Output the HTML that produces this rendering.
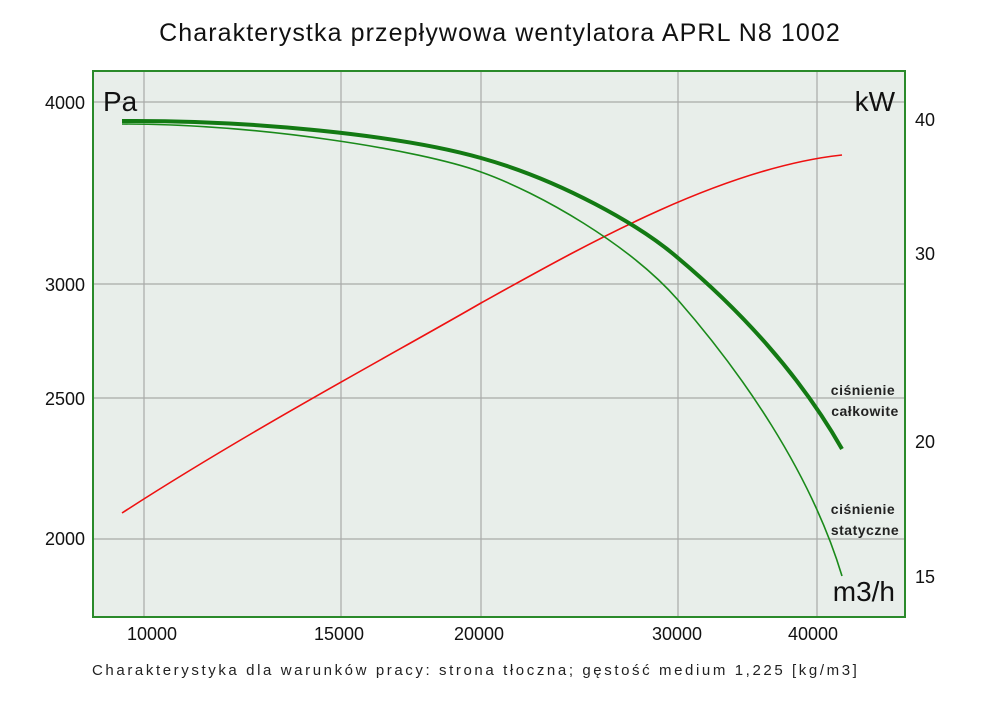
<!DOCTYPE html>
<html><head><meta charset="utf-8"><style>
body{margin:0;background:#fff;}
svg text{font-family:"Liberation Sans","DejaVu Sans",sans-serif;}
</style></head><body>
<svg width="1000" height="706" viewBox="0 0 1000 706" xmlns="http://www.w3.org/2000/svg">
<rect width="1000" height="706" fill="#fff"/>
<text x="500" y="41" font-size="25" text-anchor="middle" fill="#111" letter-spacing="1.1">Charakterystka przepływowa wentylatora APRL N8 1002</text>
<rect x="93" y="71" width="812" height="546" fill="#e8eeea"/>
<g stroke="#a8aaa8" stroke-width="1.2">
<line x1="144" y1="71" x2="144" y2="617"/>
<line x1="341" y1="71" x2="341" y2="617"/>
<line x1="481" y1="71" x2="481" y2="617"/>
<line x1="678" y1="71" x2="678" y2="617"/>
<line x1="817" y1="71" x2="817" y2="617"/>
<line x1="93" y1="102" x2="905" y2="102"/>
<line x1="93" y1="284" x2="905" y2="284"/>
<line x1="93" y1="398" x2="905" y2="398"/>
<line x1="93" y1="539" x2="905" y2="539"/>
</g>
<rect x="93" y="71" width="812" height="546" fill="none" stroke="#2a8a2a" stroke-width="2"/>
<path d="M122,513 C250,430 400,350 481,303 C580,248 720,168 842,155" fill="none" stroke="#ee1111" stroke-width="1.6"/>
<path d="M122,124 C260,124 420,150 481,172 C540,193 630,245 678,300 C740,371 810,470 842,576" fill="none" stroke="#1a8a1a" stroke-width="1.6"/>
<path d="M122,121 C250,120 400,135 481,158 C560,180 640,225 678,258 C740,310 800,375 842,449" fill="none" stroke="#137a13" stroke-width="4"/>
<text x="103" y="111" font-size="28" fill="#111">Pa</text>
<text x="895" y="111" font-size="28" fill="#111" text-anchor="end">kW</text>
<text x="895" y="601" font-size="28" fill="#111" text-anchor="end">m3/h</text>
<g font-size="14" font-weight="bold" fill="#222" text-anchor="middle" letter-spacing="0.5">
<text x="863" y="395">ciśnienie</text>
<text x="865" y="416">całkowite</text>
<text x="863" y="514">ciśnienie</text>
<text x="865" y="535">statyczne</text>
</g>
<g font-size="18" fill="#111">
<g text-anchor="end">
<text x="85" y="109">4000</text>
<text x="85" y="291">3000</text>
<text x="85" y="405">2500</text>
<text x="85" y="545">2000</text>
</g>
<text x="915" y="126">40</text>
<text x="915" y="260">30</text>
<text x="915" y="448">20</text>
<text x="915" y="583">15</text>
<g text-anchor="middle">
<text x="152" y="640">10000</text>
<text x="339" y="640">15000</text>
<text x="479" y="640">20000</text>
<text x="677" y="640">30000</text>
<text x="813" y="640">40000</text>
</g>
</g>
<text x="92" y="675" font-size="15" fill="#222" letter-spacing="2.6">Charakterystyka dla warunków pracy: strona tłoczna; gęstość medium 1,225 [kg/m3]</text>
</svg>
</body></html>
